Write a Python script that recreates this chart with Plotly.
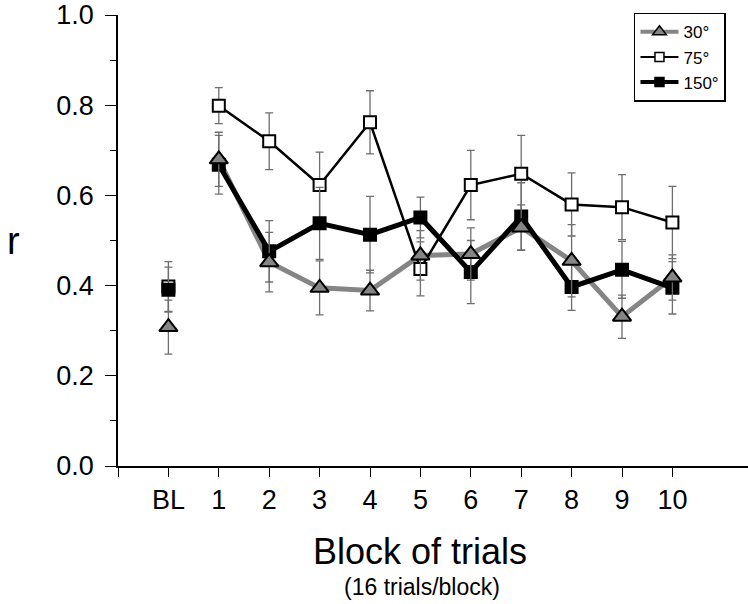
import plotly.graph_objects as go

categories = ["BL", "1", "2", "3", "4", "5", "6", "7", "8", "9", "10"]

r30 = [0.308, 0.680, 0.452, 0.395, 0.389, 0.467, 0.470, 0.529, 0.455, 0.331, 0.418]
e30 = [0.060, 0.060, 0.066, 0.060, 0.045, 0.055, 0.058, 0.050, 0.080, 0.048, 0.050]

r75 = [0.398, 0.799, 0.720, 0.623, 0.762, 0.437, 0.623, 0.648, 0.580, 0.574, 0.540]
e75 = [0.055, 0.040, 0.063, 0.073, 0.070, 0.060, 0.077, 0.085, 0.070, 0.072, 0.080]

r150 = [0.391, 0.668, 0.476, 0.538, 0.513, 0.551, 0.430, 0.553, 0.397, 0.435, 0.395]
e150 = [0.050, 0.065, 0.068, 0.080, 0.085, 0.045, 0.070, 0.075, 0.052, 0.063, 0.058]

names = ["30°", "75°", "150°"]
xpos = list(range(len(categories)))

GRAY = "#858585"
ERR = "#6e6e6e"

series = {
    "30°": dict(y=r30, e=e30, lc=GRAY, lw=5, sym="triangle-up", fc=GRAY, ms=16),
    "75°": dict(y=r75, e=e75, lc="black", lw=2.5, sym="square", fc="white", ms=12),
    "150°": dict(y=r150, e=e150, lc="black", lw=5, sym="square", fc="black", ms=12),
}

fig = go.Figure()

# lines (blocks 1-10 only, baseline not connected)
for nm in ["30°", "75°", "150°"]:
    s = series[nm]
    fig.add_trace(go.Scatter(x=xpos[1:], y=s["y"][1:], mode="lines",
                             line=dict(color=s["lc"], width=s["lw"]),
                             showlegend=False, hoverinfo="skip"))

# markers with error bars
for nm in ["75°", "150°", "30°"]:
    s = series[nm]
    fig.add_trace(go.Scatter(
        x=xpos, y=s["y"], mode="markers",
        marker=dict(symbol=s["sym"], size=s["ms"], color=s["fc"],
                    line=dict(color="black", width=2)),
        error_y=dict(type="data", array=s["e"], visible=True, color=ERR,
                     thickness=1.3, width=4),
        showlegend=False))

# legend entries
for nm in names:
    s = series[nm]
    fig.add_trace(go.Scatter(
        x=[None], y=[None], mode="lines+markers", name=nm,
        line=dict(color=s["lc"], width=s["lw"] * 0.8),
        marker=dict(symbol=s["sym"], size=s["ms"] * 0.75, color=s["fc"],
                    line=dict(color="black", width=1.5))))

fig.update_layout(
    width=748, height=604,
    margin=dict(l=118, r=0, t=12, b=138),
    paper_bgcolor="white", plot_bgcolor="white",
    font=dict(family="Liberation Sans, Arial, sans-serif", color="black"),
    showlegend=True,
    legend=dict(x=0.819, y=1.005, xanchor="left", yanchor="top",
                bordercolor="black", borderwidth=1.5, bgcolor="white",
                font=dict(size=17), traceorder="normal",
                itemwidth=38, tracegroupgap=0),
    xaxis=dict(range=[-1, 11.5], tickmode="array",
               tickvals=[-1] + xpos, ticktext=[""] + categories,
               ticks="outside", ticklen=9, tickwidth=1.3, tickcolor="black",
               showline=True, linecolor="black", linewidth=1.5,
               showgrid=False, zeroline=False,
               ticklabeloverflow="allow",
               tickfont=dict(size=27)),
    yaxis=dict(range=[0, 1], tickmode="array",
               tickvals=[0, 0.2, 0.4, 0.6, 0.8, 1.0],
               ticktext=["0.0", "0.2", "0.4", "0.6", "0.8", "1.0"],
               ticks="outside", ticklen=11, tickwidth=1.3, tickcolor="black",
               minor=dict(tickvals=[0.1, 0.3, 0.5, 0.7, 0.9], ticks="outside",
                          ticklen=6, tickwidth=1.3, tickcolor="black"),
               showline=True, linecolor="black", linewidth=1.5,
               showgrid=False, zeroline=False,
               ticklabeloverflow="allow", ticklabelstandoff=6,
               tickfont=dict(size=27)),
    annotations=[
        dict(text="Block of trials", xref="paper", yref="paper",
             x=(420 - 118) / 630, y=(466 - 552) / 454,
             xanchor="center", yanchor="middle",
             showarrow=False, font=dict(size=36)),
        dict(text="(16 trials/block)", xref="paper", yref="paper",
             x=(422 - 118) / 630, y=(466 - 588) / 454,
             xanchor="center", yanchor="middle",
             showarrow=False, font=dict(size=23)),
        dict(text="r", xref="paper", yref="paper", x=(13 - 118) / 630,
             y=(466 - 240) / 454, xanchor="center", yanchor="middle",
             showarrow=False, font=dict(size=38)),
    ],
)

fig.write_html("out.html",
               config={"displayModeBar": False},
               post_script="document.body.style.margin='0';"
                           "document.body.style.overflow='hidden';")
